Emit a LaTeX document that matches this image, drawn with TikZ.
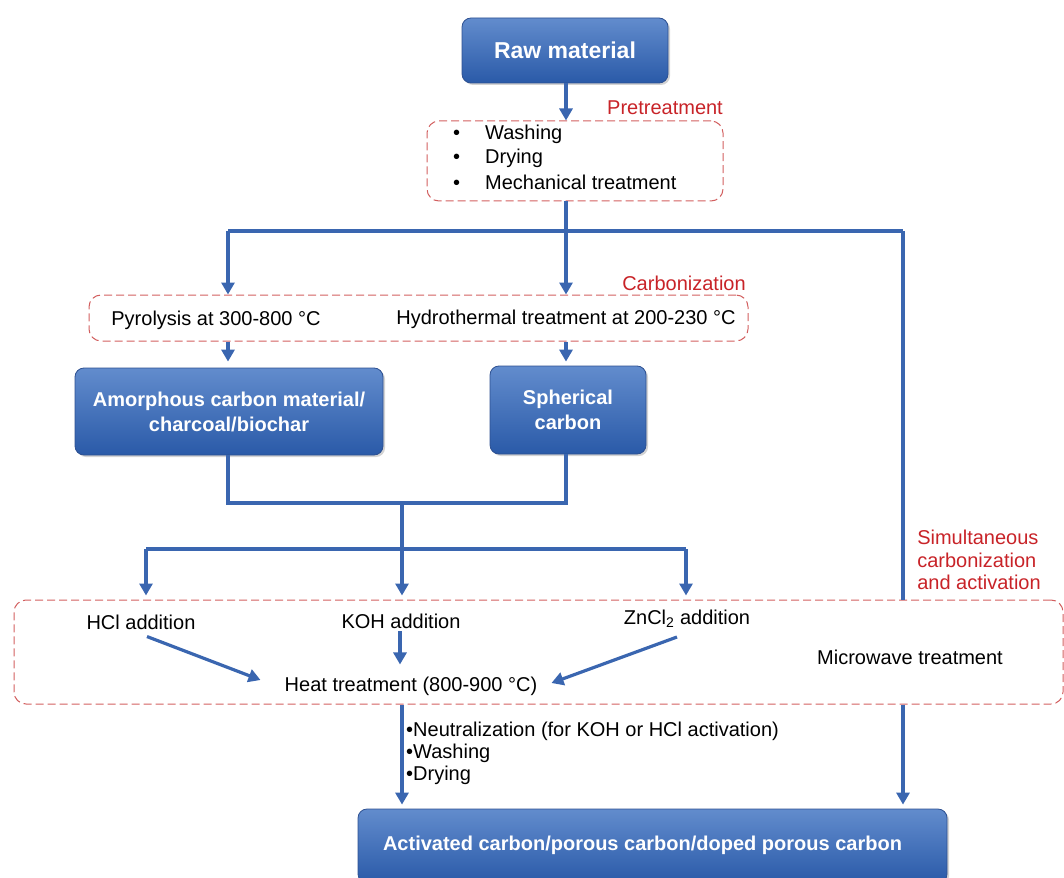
\documentclass[tikz,border=0pt]{standalone}
\usepackage{fontspec}
\setmainfont{Liberation Sans}
\usetikzlibrary{arrows.meta,shadows,calc}
\definecolor{flow}{RGB}{58,102,176}
\definecolor{labred}{RGB}{200,35,40}
\definecolor{dashred}{RGB}{210,95,95}
\definecolor{boxtop}{RGB}{98,140,205}
\definecolor{boxbot}{RGB}{42,90,168}
\definecolor{boxline}{RGB}{45,80,145}
\begin{document}
\begin{tikzpicture}[x=1pt,y=-1pt,
  bluebox/.style={rounded corners=9pt, top color=boxtop, bottom color=boxbot, draw=boxline, line width=0.8pt,
    text=white, align=center, inner sep=0pt,
    drop shadow={opacity=0.35, shadow xshift=2pt, shadow yshift=-2pt}},
  dbox/.style={draw=dashred, dash pattern=on 8pt off 4pt, rounded corners=12pt, line width=1pt, inner sep=0pt},
  flowline/.style={draw=flow, line width=3.2pt},
  arr/.style={flowline, -{Triangle[length=12pt,width=13pt]}},
  txt/.style={font=\fontsize{20}{24}\selectfont, inner sep=0pt},
  labtxt/.style={txt, text=labred},
]
\useasboundingbox (0,0) rectangle (1064,877);
% blue boxes
\node[bluebox, minimum width=206pt, minimum height=65pt, font=\fontsize{23}{27}\selectfont\bfseries] (raw) at (565,50.5) {Raw material};
\node[bluebox, minimum width=308pt, minimum height=87pt, font=\fontsize{20}{25}\selectfont\bfseries] (amor) at (229,411.5) {Amorphous carbon material/\\charcoal/biochar};
\node[bluebox, minimum width=156pt, minimum height=88pt, font=\fontsize{20}{25}\selectfont\bfseries] (sph) at (568,410) {Spherical\\carbon};
\node[bluebox, minimum width=589pt, minimum height=74pt] (fin) at (652.5,846) {};
\node[text=white, font=\fontsize{20}{24}\selectfont\bfseries, inner sep=0pt] (fint) at (642.5,845) {Activated carbon/porous carbon/doped porous carbon};
% dashed boxes
\node[dbox, minimum width=296pt, minimum height=80pt] (pre) at (575,161) {};
\node[dbox, minimum width=659pt, minimum height=46pt] (carb) at (418.5,318) {};
\node[dbox, minimum width=1049pt, minimum height=104pt] (act) at (538.5,652) {};
% labels
\node[labtxt] (lpre) at (665,108) {Pretreatment};
\node[labtxt] (lcarb) at (684,283) {Carbonization};
\node[labtxt, align=left, font=\fontsize{20}{22.5}\selectfont] (lsim) at (979,560) {Simultaneous\\carbonization\\and activation};
% pretreatment list
\node[txt, anchor=west] (w1) at (453,134) {\textbullet\hspace{25pt}Washing};
\node[txt, anchor=west] (w2) at (453,158) {\textbullet\hspace{25pt}Drying};
\node[txt, anchor=west] (w3) at (453,182) {\textbullet\hspace{25pt}Mechanical treatment};
% carbonization texts
\node[txt] (pyr) at (216,320) {Pyrolysis at 300-800 °C};
\node[txt] (hyd) at (566,319) {Hydrothermal treatment at 200-230 °C};
% activation texts
\node[txt] (hcl) at (141,622) {HCl addition};
\node[txt] (koh) at (401,621) {KOH addition};
\node[txt] (zn) at (687,619) {ZnCl\textsubscript{2} addition};
\node[txt] (mw) at (910,657) {Microwave treatment};
\node[txt] (heat) at (411,686) {Heat treatment (800-900 °C)};
% post list
\node[txt, anchor=west, align=left, font=\fontsize{20}{22}\selectfont] (post) at (406,753) {\textbullet Neutralization (for KOH or HCl activation)\\\textbullet Washing\\\textbullet Drying};
% junction coordinates
\coordinate (jtop) at (566,231);
\coordinate (jl) at (228,231);
\coordinate (jr) at (903,231);
\coordinate (ja) at (228,503);
\coordinate (js) at (566,503);
\coordinate (jm) at (402,503);
\coordinate (jm2) at (402,549);
\coordinate (jh) at (146,549);
\coordinate (jz) at (686,549);
\coordinate (jk) at (400,631);
% connectors
\draw[arr] (raw.south -| jtop) -- (pre.north -| jtop);
\draw[arr] (pre.south -| jtop) -- (carb.north -| jtop);
\draw[flowline] (jl) -- (jr);
\draw[arr] (jl) -- (carb.north -| jl);
\draw[flowline] (jr) -- (act.north -| jr);
\draw[arr] (carb.south -| jl) -- ([yshift=6pt]amor.north -| jl);
\draw[arr] (carb.south -| jtop) -- ([yshift=4pt]sph.north -| jtop);
\draw[flowline] (amor.south -| ja) -- (ja) -- (js) -- (sph.south -| js);
\draw[flowline] (jm) -- (jm2);
\draw[flowline] (jh) -- (jz);
\draw[arr] (jh) -- ([yshift=4pt]act.north -| jh);
\draw[arr] (jm2) -- ([yshift=4pt]act.north -| jm2);
\draw[arr] (jz) -- ([yshift=4pt]act.north -| jz);
\draw[arr] ($(hcl.south)+(6,7)$) -- ($(heat.west)+(-24,-6)$);
\draw[arr] (jk) -- ([yshift=12pt]heat.north -| jk);
\draw[arr] ($(zn.south)+(-10,9)$) -- ($(heat.east)+(14,-3)$);
\draw[arr] (act.south -| jm) -- ([yshift=4pt]fin.north -| jm);
\draw[arr] (act.south -| jr) -- ([yshift=4pt]fin.north -| jr);
\end{tikzpicture}
\end{document}
